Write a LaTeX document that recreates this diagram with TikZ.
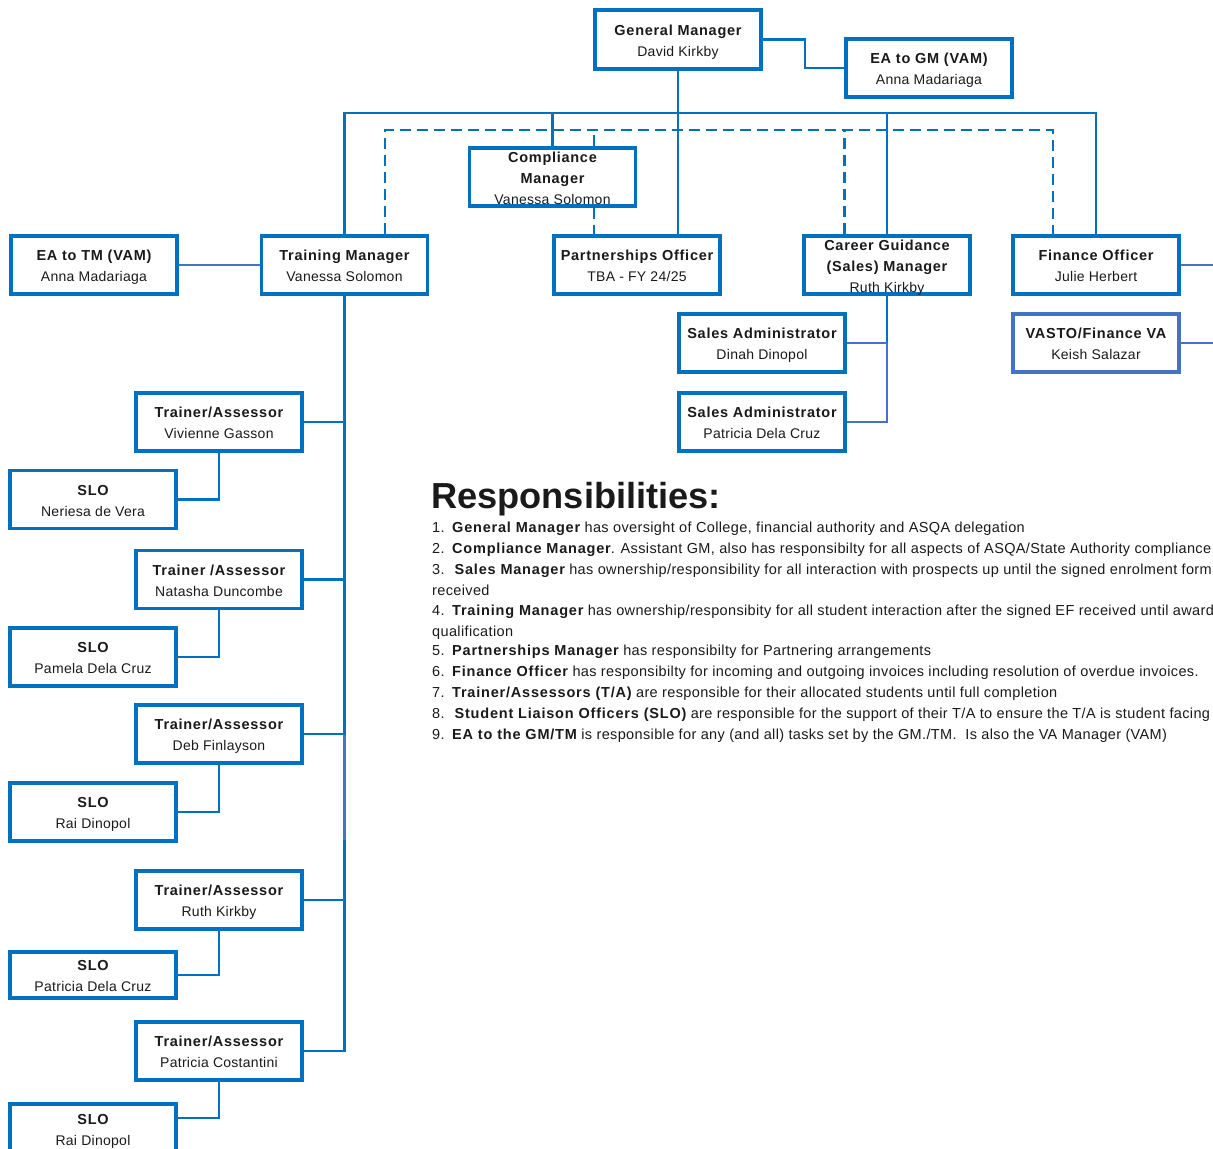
\documentclass[tikz,border=0pt]{standalone}
\usepackage{fontspec}
\setmainfont{Liberation Sans}
\newfontfamily\ttlfont[LetterSpace=5]{Liberation Sans}
\newfontfamily\nmfont[LetterSpace=2]{Liberation Sans}
\newfontfamily\rbfont[LetterSpace=5.5]{Liberation Sans}
\newfontfamily\rnfont[LetterSpace=2.5]{Liberation Sans}
\definecolor{boxblue}{HTML}{0070C0}
\definecolor{lav}{HTML}{4472C4}
\definecolor{ink}{HTML}{1A1A1A}
\newcommand{\topstrut}{\rule{0pt}{16.4bp}}
\newcommand{\botstrut}{\rule[-4bp]{0pt}{4bp}}
\newcommand{\bx}[2]{{\fontsize{14.5bp}{21bp}\ttlfont\bfseries\topstrut #1}\\{\nmfont #2\botstrut}}
\newcommand{\bxx}[3]{{\fontsize{14.5bp}{21bp}\ttlfont\bfseries\topstrut #1}\\{\fontsize{14.5bp}{21bp}\ttlfont\bfseries #2}\\{\nmfont #3\botstrut}}
\newcommand{\ritem}[3]{\makebox[20bp][l]{#1}{\rbfont\bfseries #2}#3}
\tikzset{
  box/.style={draw=boxblue, fill=white, line width=3.5bp, minimum width=166bp, minimum height=58bp,
    inner sep=0pt, align=center, text=ink, font=\fontsize{14bp}{21bp}\selectfont\nmfont},
  lavbox/.style={box, draw=lav},
  boxtext/.style={align=center, text=ink, inner sep=0pt, font=\fontsize{14bp}{21bp}\selectfont\nmfont},
  conn/.style={draw=boxblue, line width=2.2bp},
  lavconn/.style={draw=lav, line width=2.2bp},
  dconn/.style={draw=boxblue, line width=2.2bp, dash pattern=on 11bp off 6bp},
  resp/.style={anchor=base west, inner sep=0pt, text=ink, font=\fontsize{14.5bp}{17bp}\selectfont\rnfont},
}
\begin{document}
\begin{tikzpicture}[x=1bp,y=-1bp]
\useasboundingbox (0,0) rectangle (1213,1149);
\clip (0,0) rectangle (1213,1149);
\coordinate (bus) at (0,113);
\coordinate (dash) at (0,130);
\coordinate (redge) at (1213,0);

% boxes
\node[box, minimum height=59bp] (gm) at (678,39.5) {\bx{General Manager}{David Kirkby}};
\node[box] (eagm) at (929,68) {\bx{EA to GM (VAM)}{Anna Madariaga}};
\node[box] (tm) at (344.5,265) {\bx{Training Manager}{Vanessa Solomon}};
\node[box] (eatm) at (94,265) {\bx{EA to TM (VAM)}{Anna Madariaga}};
\node[box] (part) at (637,265) {\bx{Partnerships Officer}{TBA - FY 24/25}};
\node[box] (fin) at (1096,265) {\bx{Finance Officer}{Julie Herbert}};
\node[box] (sa1) at (762,343) {\bx{Sales Administrator}{Dinah Dinopol}};
\node[box] (sa2) at (762,422) {\bx{Sales Administrator}{Patricia Dela Cruz}};
\node[lavbox] (vasto) at (1096,343) {\bx{VASTO/Finance VA}{Keish Salazar}};
\node[box] (ta1) at (219,422) {\bx{Trainer/Assessor}{Vivienne Gasson}};
\node[box] (slo1) at (93,499.5) {\bx{SLO}{Neriesa de Vera}};
\node[box] (ta2) at (219,579.5) {\bx{Trainer /Assessor}{Natasha Duncombe}};
\node[box] (slo2) at (93,657) {\bx{SLO}{Pamela Dela Cruz}};
\node[box] (ta3) at (219,734) {\bx{Trainer/Assessor}{Deb Finlayson}};
\node[box] (slo3) at (93,812) {\bx{SLO}{Rai Dinopol}};
\node[box] (ta4) at (219,900) {\bx{Trainer/Assessor}{Ruth Kirkby}};
\node[box, minimum height=46bp] (slo4) at (93,975) {\bx{SLO}{Patricia Dela Cruz}};
\node[box] (ta5) at (219,1051) {\bx{Trainer/Assessor}{Patricia Costantini}};
\node[box] (slo5) at (93,1133) {};
\node[boxtext] (slo5t) at (93,1128.5) {\bx{SLO}{Rai Dinopol}};
% boxes whose text overflows the border
\node[box] (comp) at (552.5,177) {};
\node[box] (cgm) at (887,265) {};
\node[boxtext] (compt) at (comp.center) {\bxx{Compliance}{Manager}{Vanessa Solomon}};
\node[boxtext] (cgmt) at (cgm.center) {\bxx{Career Guidance}{(Sales) Manager}{Ruth Kirkby}};

% connectors
\draw[conn] (gm.east) -- ++(42,0) |- (eagm.west);
\draw[conn] (gm.south) -- (gm.south |- part.north);
\draw[conn] (tm.north) -- (tm.north |- bus) -| (fin.north);
\draw[conn] (comp.north) -- (comp.north |- bus);
\draw[conn] (cgm.north) -- (cgm.north |- bus);
\draw[dconn] ([xshift=40.5bp]tm.north) -- ([xshift=40.5bp]tm.north |- dash) -- ([xshift=-43bp]fin.north |- dash) -- ([xshift=-43bp]fin.north);
\draw[dconn] ([xshift=-42.5bp]cgm.north) -- ([xshift=-42.5bp]cgm.north |- dash);
\draw[dconn] ([xshift=41.5bp]comp.north) -- ([xshift=41.5bp]comp.north |- dash);
\draw[dconn] ([xshift=41.5bp]comp.south) -- ([xshift=41.5bp]comp.south |- part.north);
\draw[lavconn] (eatm.east) -- (tm.west);
\draw[lavconn] (fin.east) -- (fin.east -| redge);
\draw[lavconn] (vasto.east) -- (vasto.east -| redge);
\draw[conn] (cgm.south) -- (cgm.south |- sa1.east);
\draw[lavconn] (sa1.east) -- (sa1.east -| cgm.south) -- (cgm.south |- sa2.east) -- (sa2.east);
\draw[conn] (tm.south) -- (tm.south |- ta5.east) -- (ta5.east);
\draw[lavconn] (tm.south |- ta3.east) -- (tm.south |- 0,840);
\foreach \t in {ta1,ta2,ta3,ta4}{\draw[conn] (\t.east) -- (\t.east -| tm.south);}
\draw[conn] (ta1.south) |- (slo1.east);
\draw[conn] (ta2.south) |- (slo2.east);
\draw[conn] (ta3.south) |- (slo3.east);
\draw[conn] (ta4.south) |- (slo4.east);
\draw[conn] (ta5.south) -- (ta5.south |- 0,1118) -- (slo5.east |- 0,1118);

% responsibilities
\node[anchor=base west, inner sep=0pt, text=ink, font=\fontsize{36.2bp}{40bp}\selectfont\bfseries] (rh) at (431,508) {Responsibilities:};
\node[resp] (r1) at (432,532) {\ritem{1.}{General Manager}{ has oversight of College, financial authority and ASQA delegation}};
\node[resp] (r2) at (432,553) {\ritem{2.}{Compliance Manager}{. Assistant GM, also has responsibilty for all aspects of ASQA/State Authority compliance}};
\node[resp] (r3) at (432,574) {\ritem{3.}{\,Sales Manager}{ has ownership/responsibility for all interaction with prospects up until the signed enrolment form}};
\node[resp] (r3b) at (432,595) {received};
\node[resp] (r4) at (432,615) {\ritem{4.}{Training Manager}{ has ownership/responsibity for all student interaction after the signed EF received until award}};
\node[resp] (r4b) at (432,636) {qualification};
\node[resp] (r5) at (432,655) {\ritem{5.}{Partnerships Manager}{ has responsibilty for Partnering arrangements}};
\node[resp] (r6) at (432,676) {\ritem{6.}{Finance Officer}{ has responsibilty for incoming and outgoing invoices including resolution of overdue invoices.}};
\node[resp] (r7) at (432,697) {\ritem{7.}{Trainer/Assessors (T/A)}{ are responsible for their allocated students until full completion}};
\node[resp] (r8) at (432,718) {\ritem{8.}{\,Student Liaison Officers (SLO)}{ are responsible for the support of their T/A to ensure the T/A is student facing}};
\node[resp] (r9) at (432,739) {\ritem{9.}{EA to the GM/TM}{ is responsible for any (and all) tasks set by the GM./TM.\ \ Is also the VA Manager (VAM)}};
\end{tikzpicture}
\end{document}
